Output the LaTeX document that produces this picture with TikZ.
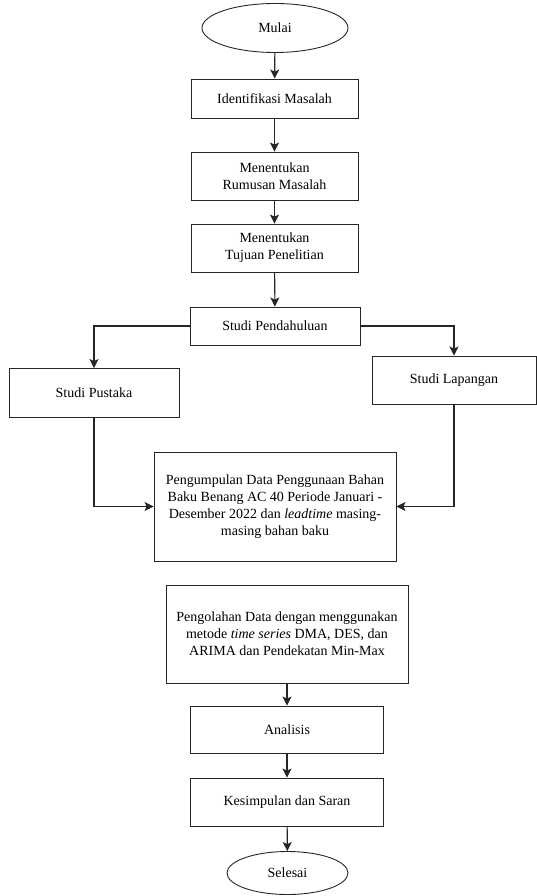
\documentclass[tikz,border=0pt]{standalone}
\usepackage{fontspec}
\setmainfont{Liberation Serif}
\newfontfamily\tnrfont{Liberation Serif}
\usetikzlibrary{arrows.meta,shapes.geometric}
\tikzset{
  box/.style={draw=black!85, line width=0.9pt, rectangle, inner sep=2pt, align=center,
    font=\tnrfont\fontsize{14}{17}\selectfont},
  term/.style={draw=black!85, line width=0.9pt, ellipse, inner sep=0pt,
    font=\tnrfont\fontsize{14}{17}\selectfont},
  arr/.style={draw=black!85, line width=1.1pt, -{Stealth[length=9pt,width=9pt,inset=2pt]}},
}
\begin{document}
\begin{tikzpicture}[x=1pt,y=-1pt]
\useasboundingbox (0,0) rectangle (537,896);
\node[term, minimum width=146, minimum height=49] (mulai) at (275,28) {Mulai};
\node[box, minimum width=167, minimum height=39] (ident) at (274.5,98.5) {Identifikasi Masalah};
\node[box, minimum width=167, minimum height=48] (rumus) at (274.5,176) {Menentukan\\Rumusan Masalah};
\node[box, minimum width=167, minimum height=48] (tujuan) at (274.5,248) {Menentukan\\Tujuan Penelitian};
\node[box, minimum width=170, minimum height=38] (pend) at (275,326) {Studi Pendahuluan};
\node[box, minimum width=170, minimum height=49] (pust) at (94,393) {Studi Pustaka};
\node[box, minimum width=164, minimum height=48] (lap) at (454,380) {Studi Lapangan};
\node[box, minimum width=242, minimum height=109] (kumpul) at (275,506.5)
  {Pengumpulan Data Penggunaan Bahan\\Baku Benang AC 40 Periode Januari -\\Desember 2022 dan \textit{leadtime} masing-\\masing bahan baku};
\node[box, minimum width=242, minimum height=98] (olah) at (287,634)
  {Pengolahan Data dengan menggunakan\\metode \textit{time series} DMA, DES, dan\\ARIMA dan Pendekatan Min-Max};
\node[box, minimum width=193, minimum height=47] (anal) at (287,729.5) {Analisis};
\node[box, minimum width=193, minimum height=48] (kesim) at (287,802) {Kesimpulan dan Saran};
\node[term, minimum width=121, minimum height=43] (selesai) at (287.5,873) {Selesai};

\draw[arr] (mulai) -- (ident);
\draw[arr] (ident) -- (rumus);
\draw[arr] (rumus) -- (tujuan);
\draw[arr] (tujuan) -- (pend);
\draw[arr] (pend.west) -| (pust.north);
\draw[arr] (pend.east) -| (lap.north);
\draw[arr] (pust.south) |- (kumpul.west);
\draw[arr] (lap.south) |- (kumpul.east);
\draw[arr] (olah) -- (anal);
\draw[arr] (anal) -- (kesim);
\draw[arr] (kesim) -- (selesai);
\end{tikzpicture}
\end{document}
